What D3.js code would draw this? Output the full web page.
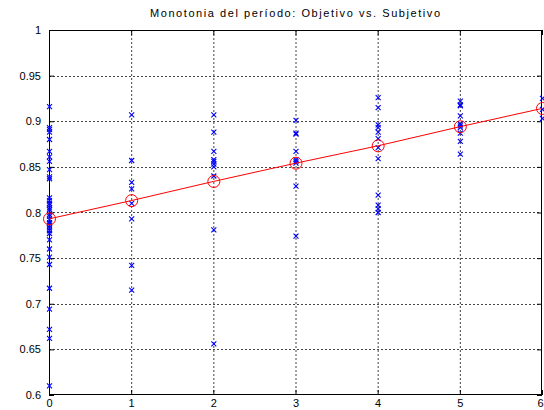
<!DOCTYPE html>
<html>
<head>
<meta charset="utf-8">
<script src="https://cdn.jsdelivr.net/npm/d3@7"></script>
<style>
  html, body { margin: 0; padding: 0; background: #fff; }
  svg { display: block; }
  text { font-family: "Liberation Sans", Arial, Helvetica, sans-serif; fill: #000; }
</style>
</head>
<body>
<svg id="chart" width="544" height="410"></svg>
<script>
// Objective level (x) and the subjective scores recorded at each level
const levels = [0, 1, 2, 3, 4, 5, 6];
const scores0 = [0.916, 0.893, 0.891, 0.888, 0.880, 0.867, 0.861, 0.856, 0.847, 0.839, 0.837,
                 0.816, 0.813, 0.810, 0.808, 0.805, 0.803, 0.798, 0.796, 0.792, 0.789, 0.788,
                 0.786, 0.783, 0.780, 0.777, 0.770, 0.760, 0.751, 0.743, 0.717, 0.694, 0.672,
                 0.662, 0.610];
const scores1 = [0.907, 0.857, 0.833, 0.826, 0.810, 0.793, 0.742, 0.715];
const scores2 = [0.907, 0.888, 0.867, 0.858, 0.856, 0.853, 0.850, 0.840, 0.781, 0.656];
const scores3 = [0.901, 0.887, 0.886, 0.867, 0.858, 0.856, 0.854, 0.829, 0.774];
const scores4 = [0.926, 0.915, 0.896, 0.893, 0.888, 0.881, 0.871, 0.859, 0.819, 0.808, 0.804, 0.800];
const scores5 = [0.922, 0.918, 0.917, 0.906, 0.897, 0.895, 0.893, 0.887, 0.878, 0.864];
const scores6 = [0.925, 0.913, 0.903];
// Fitted trend value at each level
const fitted = [0.793, 0.813, 0.834, 0.854, 0.873, 0.894, 0.914];

const xTicks = [0, 1, 2, 3, 4, 5, 6];
const yTicks = [0.6, 0.65, 0.7, 0.75, 0.8, 0.85, 0.9, 0.95, 1];
const title = "Monotonia del período: Objetivo vs. Subjetivo";

(function () {
  const scoreGroups = [scores0, scores1, scores2, scores3, scores4, scores5, scores6];
  const points = [];
  levels.forEach((lv, i) => scoreGroups[i].forEach(v => points.push({ x: lv, y: v })));

  const plotL = 49, plotR = 542, plotT = 30, plotB = 395;
  const svg = d3.select("#chart");

  const x = d3.scaleLinear().domain([0, 6]).range([plotL, plotR]);
  const y = d3.scaleLinear().domain([0.6, 1]).range([plotB, plotT]);

  // Dotted grid
  const grid = svg.append("g").attr("stroke", "#444").attr("stroke-width", 1)
    .attr("stroke-dasharray", "2,2").attr("fill", "none");
  xTicks.slice(1, -1).forEach(t => {
    grid.append("line").attr("x1", x(t) + 0.5).attr("x2", x(t) + 0.5)
      .attr("y1", plotT).attr("y2", plotB);
  });
  yTicks.slice(1, -1).forEach(t => {
    grid.append("line").attr("x1", plotL).attr("x2", plotR)
      .attr("y1", Math.round(y(t)) + 0.5).attr("y2", Math.round(y(t)) + 0.5);
  });

  // Axes with inward ticks
  const xAxisB = d3.axisBottom(x).tickValues(xTicks).tickSizeInner(-5).tickSizeOuter(0)
    .tickPadding(4).tickFormat(d3.format("d"));
  const xAxisT = d3.axisTop(x).tickValues(xTicks).tickSizeInner(-5).tickSizeOuter(0).tickFormat("");
  const yAxisL = d3.axisLeft(y).tickValues(yTicks).tickSizeInner(-5).tickSizeOuter(0)
    .tickPadding(8).tickFormat(d => d === 1 ? "1" : d3.format(".2~f")(d));
  const yAxisR = d3.axisRight(y).tickValues(yTicks).tickSizeInner(-5).tickSizeOuter(0).tickFormat("");

  function styleAxis(g) {
    g.select(".domain").remove();
    g.selectAll("line").attr("stroke", "#000");
    g.selectAll("text").attr("font-size", "11px")
      .attr("font-family", "'Liberation Sans', Arial, sans-serif");
  }
  const gxb = svg.append("g").attr("transform", `translate(0,${plotB})`).call(xAxisB).call(styleAxis);
  // keep the last label inside the frame's right edge
  gxb.selectAll(".tick").filter(d => d === xTicks[xTicks.length - 1])
    .select("text").attr("text-anchor", "end").attr("x", 1);
  svg.append("g").attr("transform", `translate(0,${plotT})`).call(xAxisT).call(styleAxis);
  svg.append("g").attr("transform", `translate(${plotL},0)`).call(yAxisL).call(styleAxis);
  svg.append("g").attr("transform", `translate(${plotR},0)`).call(yAxisR).call(styleAxis);

  // Axes box
  svg.append("rect").attr("x", plotL + 0.5).attr("y", plotT + 0.5)
    .attr("width", plotR - plotL - 1).attr("height", plotB - plotT - 1)
    .attr("fill", "none").attr("stroke", "#000").attr("stroke-width", 1);

  // Observed scores as blue crosses
  const s = 2.5;
  const crosses = svg.append("g").attr("stroke", "#0000ff").attr("stroke-width", 1.1);
  crosses.selectAll("path").data(points).join("path")
    .attr("d", d => {
      const cx = x(d.x) + 0.5, cy = y(d.y);
      return `M${cx - s},${cy - s}L${cx + s},${cy + s}M${cx - s},${cy + s}L${cx + s},${cy - s}`;
    });

  // Trend line and circles at each level
  const trend = levels.map((lv, i) => ({ x: lv, y: fitted[i] }));
  svg.append("path").datum(trend)
    .attr("d", d3.line().x(d => x(d.x)).y(d => y(d.y)))
    .attr("fill", "none").attr("stroke", "#ff0000").attr("stroke-width", 1);
  svg.append("g").selectAll("circle").data(trend).join("circle")
    .attr("cx", d => x(d.x) + 0.5).attr("cy", d => y(d.y)).attr("r", 6)
    .attr("fill", "none").attr("stroke", "#ff0000").attr("stroke-width", 1);

  // Title
  svg.append("text").attr("x", 295).attr("y", 17).attr("text-anchor", "middle")
    .attr("font-size", "11px").attr("textLength", 290).attr("lengthAdjust", "spacing")
    .text(title);
})();
</script>
</body>
</html>
